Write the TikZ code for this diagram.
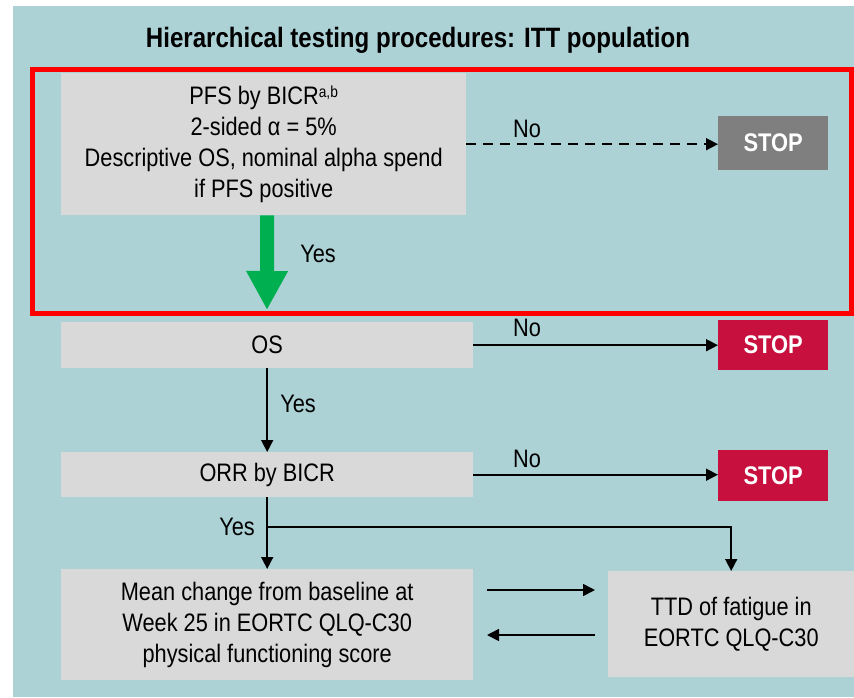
\documentclass[tikz,border=0pt]{standalone}
\usepackage{fontspec}
\setmainfont[FakeStretch=0.86]{Liberation Sans}
\usetikzlibrary{arrows.meta}
\definecolor{bg}{HTML}{ACD2D6}
\definecolor{boxgray}{HTML}{D9D9D9}
\definecolor{stopgray}{HTML}{7F7F7F}
\definecolor{stopred}{HTML}{C8103E}
\definecolor{arrgreen}{HTML}{00B050}
\begin{document}
\begin{tikzpicture}[x=1pt,y=-1pt,
  font=\fontsize{25.3}{31}\selectfont,
  box/.style={fill=boxgray, draw=none, anchor=north west, inner sep=0pt, align=center, text=black},
  stopbox/.style={box, text=white, font=\fontsize{25.5}{28}\selectfont\bfseries},
  arr/.style={-{Triangle[length=12pt,width=12pt]}, line width=1.6pt},
  lbl/.style={inner sep=0pt}]
\useasboundingbox (0,0) rectangle (854,697);
\fill[white] (0,0) rectangle (854,697);
\fill[bg] (13,6) rectangle (854,697);
\node[font=\fontsize{28}{32}\selectfont\bfseries] (title) at (418,40) {Hierarchical testing procedures: ITT population};

% boxes
\node[box, minimum width=405pt, minimum height=142pt] (pfs) at (61,73)
  {PFS by BICR{\fontsize{16}{16}\selectfont\raisebox{0.45em}{a,b}}\\2-sided α = 5\%\\Descriptive OS, nominal alpha spend\\if PFS positive};
\node[stopbox, fill=stopgray, minimum width=110pt, minimum height=54pt] (stop1) at (718,116) {STOP};

\node[box, minimum width=412pt, minimum height=46pt] (os) at (61,322) {OS};
\node[stopbox, fill=stopred, minimum width=110pt, minimum height=50pt] (stop2) at (718,320) {STOP};

\node[box, minimum width=412pt, minimum height=45pt] (orr) at (61,452) {ORR by BICR};
\node[stopbox, fill=stopred, minimum width=110pt, minimum height=51pt] (stop3) at (718,450) {STOP};

\node[box, minimum width=412pt, minimum height=111pt] (mean) at (61,569)
  {Mean change from baseline at\\Week 25 in EORTC QLQ-C30\\physical functioning score};
\node[box, minimum width=246pt, minimum height=106pt] (ttd) at (608,571)
  {TTD of fatigue in\\EORTC QLQ-C30};

% connectors
\draw[arr, dash pattern=on 10pt off 7pt] (pfs.east) -- (pfs.east -| stop1.west);
\node[lbl] (no1) at (527,129) {No};

\coordinate (gtip) at (267,310);
\draw[arrgreen, line width=14pt, -{Triangle[length=39pt,width=39pt]}] ([xshift=3.5pt]pfs.south) -- (gtip);
\node[lbl] (yes1) at (318,254) {Yes};

\draw[arr] (os.east) -- (os.east -| stop2.west);
\node[lbl] (no2) at (527,328) {No};
\draw[arr] (os.south) -- (orr.north);
\node[lbl] (yes2) at (298,404) {Yes};

\draw[arr] (orr.east) -- (orr.east -| stop3.west);
\node[lbl] (no3) at (527,459) {No};
\draw[arr] (orr.south) -- (mean.north);
\coordinate (br) at (267,527);
\draw[arr] (br) -| (ttd.north);
\node[lbl] (yes3) at (237,527) {Yes};

\coordinate (a1s) at (487,590);
\coordinate (a1e) at (595,590);
\coordinate (a2s) at (595,635);
\coordinate (a2e) at (487,635);
\draw[arr] (a1s) -- (a1e);
\draw[arr] (a2s) -- (a2e);

% red highlight frame
\draw[red, line width=5pt] (32.5,69.5) rectangle (851.5,313);
\end{tikzpicture}
\end{document}
